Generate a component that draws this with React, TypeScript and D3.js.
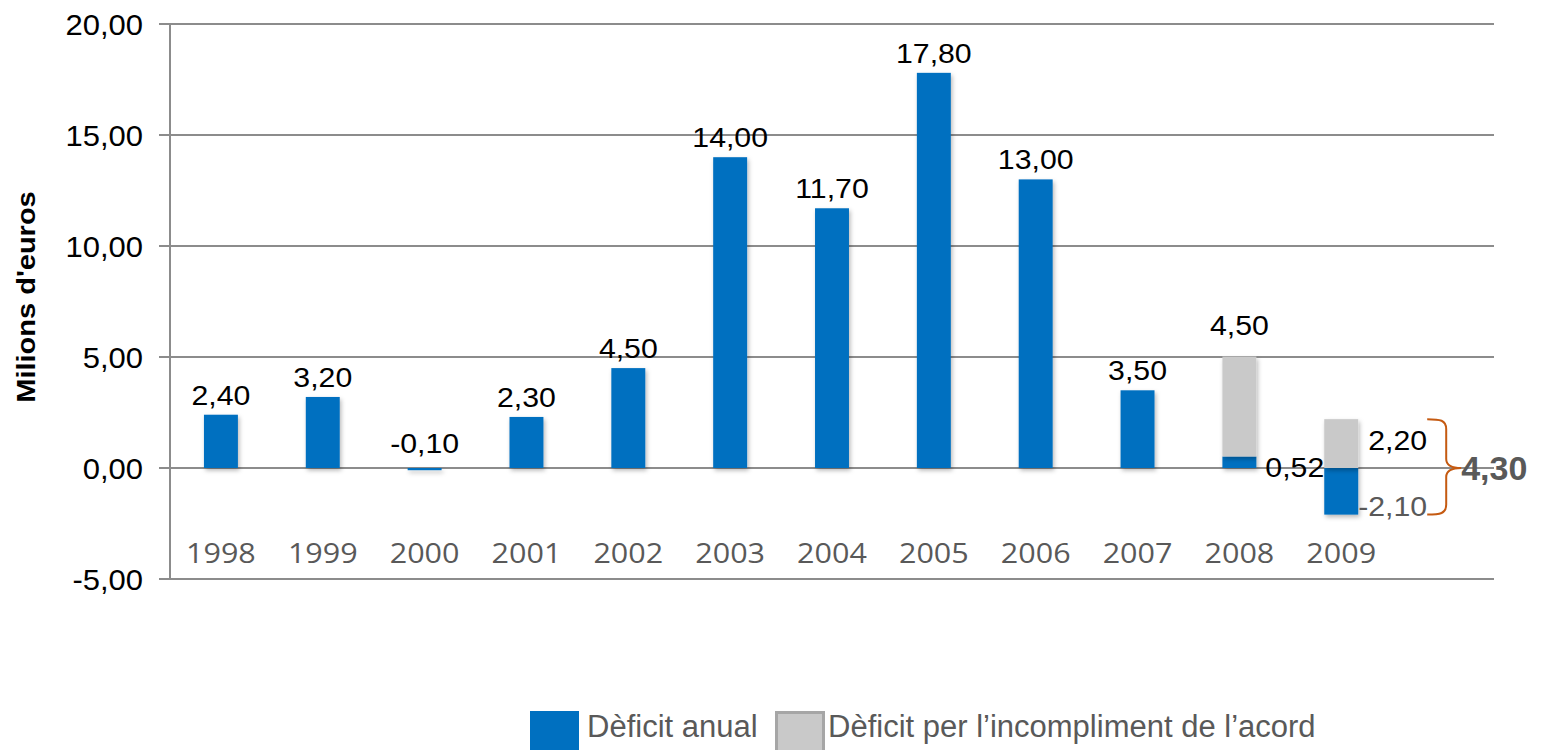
import React from "react";
import * as d3 from "d3";

const years = ["1998", "1999", "2000", "2001", "2002", "2003", "2004", "2005", "2006", "2007", "2008", "2009"];
const annualDeficit = [2.4, 3.2, -0.1, 2.3, 4.5, 14.0, 11.7, 17.8, 13.0, 3.5, 0.52, -2.1];
const breachDeficit = [0, 0, 0, 0, 0, 0, 0, 0, 0, 0, 4.5, 2.2];
const yTicks = [-5, 0, 5, 10, 15, 20];
const legendLabels = ["Dèficit anual", "Dèficit per l’incompliment de l’acord"];
const yTitle = "Milions d'euros";

const BLUE = "#0070C0";
const GREY = "#C9C9C9";
const GRID = "#8C8C8C";
const DARK = "#595959";
const ARIAL = "'Liberation Sans', Arial, sans-serif";

const fmt = (v: number) => d3.format(".2f")(v).replace(".", ",").replace("\u2212", "-");

function T(props: {
  x: number; y: number; anchor?: string; size: number; fill?: string; weight?: string;
  family?: string; sx?: number; rotate?: number; children: React.ReactNode;
}) {
  const { x, y, anchor = "middle", size, fill = "#000", weight = "normal", family = ARIAL, sx = 1, rotate = 0, children } = props;
  return (
    <text
      transform={`translate(${x},${y}) rotate(${rotate}) scale(${sx},1)`}
      textAnchor={anchor}
      fontSize={size}
      fill={fill}
      fontWeight={weight}
      fontFamily={family}
    >
      {children}
    </text>
  );
}

export default function App() {
  const W = 1546, H = 750;
  const left = 170, right = 1494, top = 24, bottom = 579;
  const x = d3.scaleBand<string>().domain([...years, ""]).range([left, right]).padding(0);
  const y = d3.scaleLinear().domain([-5, 20]).range([bottom, top]);
  const bw = x.bandwidth() / 3;

  const rows = years.map((yr, i) => ({ year: yr, annual: annualDeficit[i], breach: breachDeficit[i] }));
  const series = d3.stack<any>().keys(["annual", "breach"]).offset(d3.stackOffsetDiverging)(rows);

  const cx = (yr: string) => (x(yr) as number) + x.bandwidth() / 2;

  // brace for last year
  const li = years.length - 1;
  const braceTop = y(breachDeficit[li]);
  const braceBot = y(annualDeficit[li]);
  const braceMid = y(0);
  const bRight = cx(years[li]) + bw / 2;
  const x0 = bRight + 69, spine = bRight + 88, tip = bRight + 103;
  const brace = `M${x0},${braceTop} C${spine - 6},${braceTop} ${spine},${braceTop + 1} ${spine},${braceTop + 10}
    L${spine},${braceMid - 9} C${spine},${braceMid - 2} ${tip - 9},${braceMid} ${tip},${braceMid}
    C${tip - 9},${braceMid} ${spine},${braceMid + 2} ${spine},${braceMid + 9}
    L${spine},${braceBot - 10} C${spine},${braceBot - 1} ${spine - 6},${braceBot} ${x0},${braceBot}`;
  const total = breachDeficit[li] - annualDeficit[li];

  return (
    <svg width={W} height={H} style={{ position: "absolute", left: 0, top: 0, background: "#fff" }}>
      <defs>
        <filter id="sh" x="-30%" y="-30%" width="160%" height="160%">
          <feDropShadow dx="1.5" dy="2.5" stdDeviation="2" floodColor="#000" floodOpacity="0.28" />
        </filter>
      </defs>

      {/* gridlines */}
      {yTicks.map((t) => (
        <g key={t}>
          <line x1={left} x2={right} y1={y(t)} y2={y(t)} stroke={GRID} strokeWidth={2} />
          <line x1={left - 11} x2={left} y1={y(t)} y2={y(t)} stroke={GRID} strokeWidth={2} />
          <T x={143} y={y(t) + 10.5} anchor="end" size={29.5} sx={1.05}>{fmt(t)}</T>
        </g>
      ))}
      <line x1={left} x2={left} y1={top} y2={bottom} stroke={GRID} strokeWidth={2} />

      {/* year labels */}
      {years.map((yr) => (
        <T key={yr} x={cx(yr)} y={563} size={28} sx={1.09} fill={DARK} family="'Open Sans', sans-serif">{yr}</T>
      ))}

      {/* bars */}
      {series.map((s, si) => (
        <g key={s.key} filter="url(#sh)">
          {s.map((d, i) => {
            const v = si === 0 ? annualDeficit[i] : breachDeficit[i];
            if (v === 0) return null;
            const y1 = y(Math.max(d[0], d[1]));
            const y2 = y(Math.min(d[0], d[1]));
            return (
              <rect key={i} x={cx(years[i]) - bw / 2} y={y1} width={bw} height={Math.max(2, y2 - y1)}
                fill={si === 0 ? BLUE : GREY} />
            );
          })}
        </g>
      ))}

      {/* labels */}
      {series.map((s, si) =>
        s.map((d, i) => {
          const v = si === 0 ? annualDeficit[i] : breachDeficit[i];
          if (v === 0) return null;
          const c = cx(years[i]);
          const rEdge = c + bw / 2;
          if (si === 0) {
            if (breachDeficit[i] === 0) {
              const by = v >= 0 ? y(v) - 10 : y(0) - 15;
              return <T key={`a${i}`} x={c} y={by} size={27.5} sx={1.1}>{fmt(v)}</T>;
            }
            const by = v >= 0 ? y(0) + 9 : y(v) + 1;
            return (
              <T key={`a${i}`} x={rEdge + (v >= 0 ? 9 : 0)} y={by} anchor="start" size={27.5} sx={1.1}
                fill={v >= 0 ? "#000" : DARK}>{fmt(v)}</T>
            );
          }
          if (annualDeficit[i] > 0) {
            return <T key={`b${i}`} x={c} y={y(d[1]) - 22} size={27.5} sx={1.1}>{fmt(v)}</T>;
          }
          const mid = (y(d[0]) + y(d[1])) / 2;
          return <T key={`b${i}`} x={rEdge + 10} y={mid + 6} anchor="start" size={27.5} sx={1.1}>{fmt(v)}</T>;
        })
      )}

      {/* brace & total */}
      <path d={brace} fill="none" stroke="#C55A11" strokeWidth={2} />
      <T x={tip} y={braceMid + 12} anchor="start" size={34} weight="bold" fill={DARK}>{fmt(total)}</T>

      {/* y title */}
      <T x={35} y={297} rotate={-90} size={25} weight="bold" sx={1.16}>{yTitle}</T>

      {/* legend */}
      <rect x={530} y={711} width={49} height={50} fill={BLUE} />
      <T x={587} y={737} anchor="start" size={31} fill={DARK}>{legendLabels[0]}</T>
      <rect x={776.5} y={712.5} width={47} height={50} fill={GREY} stroke="#A6A6A6" strokeWidth={3} />
      <T x={828} y={737} anchor="start" size={31} fill={DARK}>{legendLabels[1]}</T>
    </svg>
  );
}
